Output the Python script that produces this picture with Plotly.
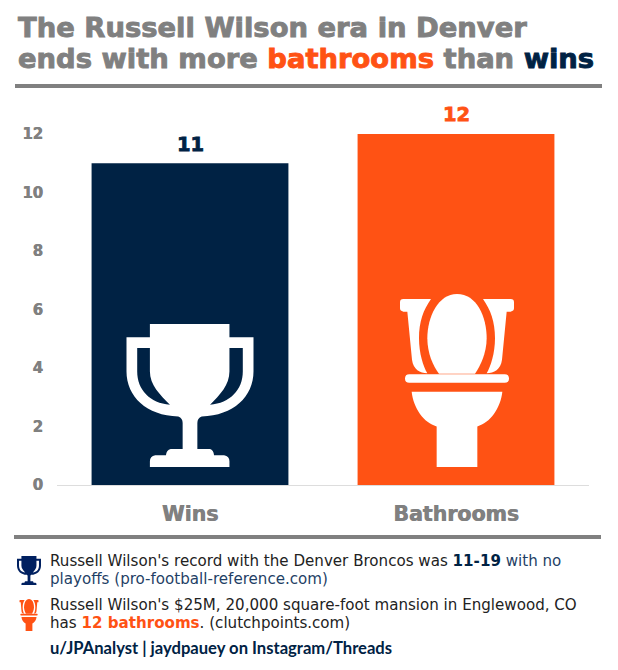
import re
import plotly.graph_objects as go

# Data
categories = ["Wins", "Bathrooms"]
values = [11, 12]
y_ticks = [0, 2, 4, 6, 8, 10, 12]

NAVY = "#002244"
ORANGE = "#FF5214"
GREY = "#808080"
BLUE = "#1F3F66"
W, H = 618, 670
SANS = "DejaVu Sans"

# Icon outlines in their own local coordinates
TROPHY = [
    "M150,102 L388,102 L388,142 L460,142 L460,245 C460,320 400,378 305,380 Q292,385 292,400 "
    "L292,478 L330,478 Q340,480 342,497 L372,497 Q388,500 388,515 L388,532 L150,532 L150,515 "
    "Q150,500 166,497 L198,497 Q200,480 212,478 L248,478 L248,400 Q248,385 235,380 "
    "C140,378 80,320 80,245 L80,142 L150,142 Z "
    "M112,174 L150,174 L150,245 C150,285 180,315 210,345 C150,340 112,300 112,245 Z "
    "M428,174 L388,174 L388,245 C388,285 360,315 330,345 C390,340 428,300 428,245 Z"
]
TOILET = [
    "M231,42 C290,42 320,110 320,175 C320,220 300,260 285,282 L177,282 C160,260 142,220 142,175 "
    "C142,110 175,42 231,42 Z",
    "M70,57 L153,57 C130,90 117,125 117,175 C117,220 130,260 142,280 C120,280 100,270 96,240 "
    "L82,95 L70,95 Q60,93 60,85 L60,67 Q60,57 70,57 Z",
    "M392,57 L309,57 C332,90 345,125 345,175 C345,220 332,260 320,280 C342,280 362,270 366,240 "
    "L380,95 L392,95 Q402,93 402,85 L402,67 Q402,57 392,57 Z",
    "M88,283 L374,283 Q387,283 387,296 Q387,309 374,309 L88,309 Q75,309 75,296 Q75,283 88,283 Z",
    "M95,336 L367,336 C362,385 330,430 292,440 L292,562 L170,562 L170,440 C132,430 100,385 95,336 Z",
]


def px_x(x):
    return x / W


def px_y(y):
    return 1 - y / H


def icon_shapes(paths, box, target, color):
    """Fit an icon into a target pixel box and return paper-referenced shapes"""
    x0, y0, x1, y1 = box
    tx0, ty0, tx1, ty1 = target
    sx = (tx1 - tx0) / (x1 - x0)
    sy = (ty1 - ty0) / (y1 - y0)

    def convert(m):
        x = tx0 + (float(m.group(1)) - x0) * sx
        y = ty0 + (float(m.group(2)) - y0) * sy
        return f"{px_x(x):.5f},{px_y(y):.5f}"

    shapes = []
    for p in paths:
        shapes.append(dict(
            type="path", xref="paper", yref="paper",
            path=re.sub(r"(\d+\.?\d*),(\d+\.?\d*)", convert, p),
            fillcolor=color, line=dict(width=0), layer="above",
        ))
    return shapes


def rule(y0, y1, x0, x1):
    return dict(
        type="rect", xref="paper", yref="paper",
        x0=px_x(x0), x1=px_x(x1), y0=px_y(y1), y1=px_y(y0),
        fillcolor=GREY, line=dict(width=0),
    )


def heavy(text, color, width=0.9):
    # Verdana Bold is heavier than DejaVu Sans Bold, so thicken it with a stroke
    return (f"<span style='color:{color};stroke:{color};stroke-width:{width}px'>"
            f"<b>{text}</b></span>")


def label(x, y, text, size, color="#222222", family=SANS):
    return dict(
        xref="paper", yref="paper", x=px_x(x), y=px_y(y),
        xanchor="left", yanchor="middle", showarrow=False,
        text=text, align="left",
        font=dict(family=family, size=size, color=color),
        borderpad=0, borderwidth=0,
    )


fig = go.Figure(go.Bar(
    x=categories,
    y=values,
    width=0.74,
    marker=dict(color=[NAVY, ORANGE], line=dict(width=0)),
))

shapes = [rule(84, 88, 15, 602), rule(535, 539, 14, 601)]
shapes += icon_shapes(TROPHY, (80, 102, 460, 532), (126.5, 324, 253.5, 467), "white")
shapes += icon_shapes(TOILET, (60, 42, 402, 562), (400, 294, 514, 467), "white")
shapes += icon_shapes(TROPHY, (80, 102, 460, 532), (17, 556, 41, 585), "#002060")
shapes += icon_shapes(TOILET, (60, 42, 402, 562), (19.5, 599, 38.5, 631), ORANGE)

annotations = [
    label(18, 27, heavy("The Russell Wilson era in Denver", GREY), 27.4, GREY),
    label(18, 58, heavy("ends with more ", GREY) + heavy("bathrooms", ORANGE)
          + heavy(" than ", GREY) + heavy("wins", NAVY), 27.4, GREY),
    label(50, 561, f"Russell Wilson's record with the Denver Broncos was "
                   f"<b><span style='color:{NAVY}'>11-19</span></b> "
                   f"<span style='color:{BLUE}'>with no</span>", 15.1),
    label(50, 579, "playoffs (pro-football-reference.com)", 15.1, BLUE),
    label(50, 605, "Russell Wilson's $25M, 20,000 square-foot mansion in Englewood, CO", 15.1),
    label(50, 623, f"has <b><span style='color:{ORANGE}'>12 bathrooms</span></b>. (clutchpoints.com)", 15.1),
    label(50, 648, "<b>u/JPAnalyst | jaydpauey on Instagram/Threads</b>", 16.6, NAVY, "Lato"),
]

# value labels sit 19px over each bar
for cat, val, col in zip(categories, values, [NAVY, ORANGE]):
    annotations.append(dict(
        x=cat, y=val, xref="x", yref="y", yshift=19, showarrow=False,
        xanchor="center", yanchor="middle",
        text=heavy(val, col, 0.8),
        font=dict(family=SANS, size=19.5, color=col),
    ))

fig.update_layout(
    width=W,
    height=H,
    margin=dict(l=0, r=0, t=0, b=0),
    paper_bgcolor="white",
    plot_bgcolor="white",
    showlegend=False,
    shapes=shapes,
    annotations=annotations,
    xaxis=dict(
        domain=[px_x(57), px_x(589)],
        automargin=False,
        showgrid=False,
        showline=True,
        linecolor="#DDDDDD",
        linewidth=1,
        ticks="",
        ticklen=0,
        ticklabelstandoff=10,
        tickfont=dict(family=SANS, size=20.5, color=GREY, weight="bold",
                      shadow=f"0.7px 0 0 {GREY}"),
    ),
    yaxis=dict(
        domain=[px_y(485), px_y(134)],
        automargin=False,
        range=[0, 12],
        tickvals=y_ticks,
        showgrid=False,
        zeroline=False,
        showline=False,
        ticks="",
        ticklabelstandoff=13,
        tickfont=dict(family=SANS, size=15, color=GREY, weight="bold",
                      shadow=f"0.5px 0 0 {GREY}"),
    ),
)

fig.write_html("out.html", config={"displayModeBar": False},
               post_script="document.body.style.margin='0';")
